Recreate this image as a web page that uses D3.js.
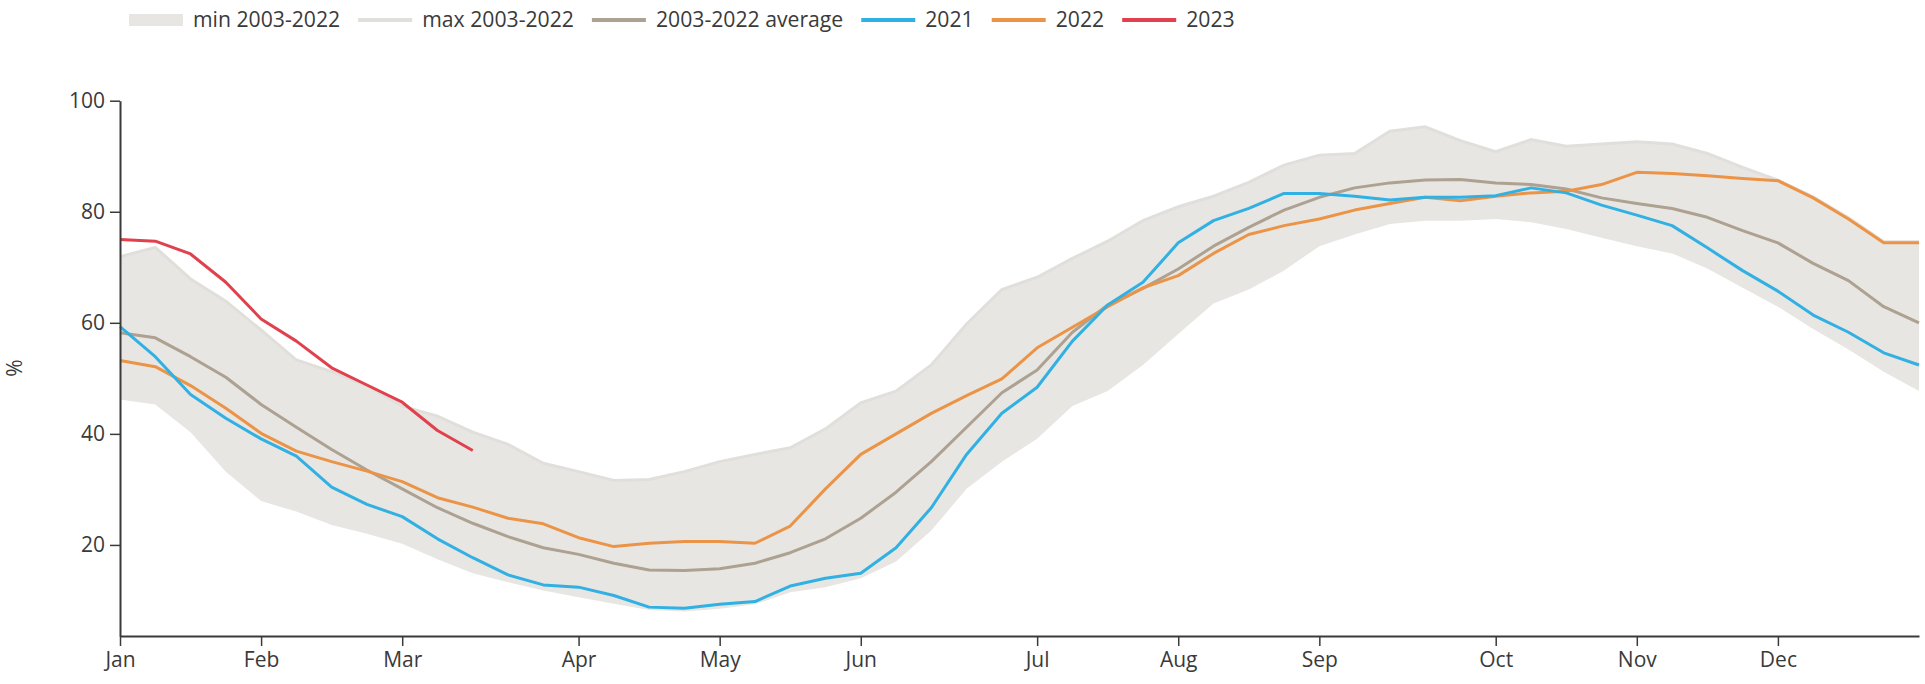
<!DOCTYPE html>
<html>
<head>
<meta charset="utf-8">
<script src="https://cdn.jsdelivr.net/npm/d3@7"></script>
<style>
  html, body { margin: 0; padding: 0; background: #fff; }
  svg { display: block; font-family: "Open Sans", "Noto Sans", sans-serif; }
</style>
</head>
<body>
<svg id="chart" width="1925" height="684"></svg>
<script>
// ---- data (weekly points, index 0..51) ----
const monthLabels = ["Jan","Feb","Mar","Apr","May","Jun","Jul","Aug","Sep","Oct","Nov","Dec"];
const monthTickIndex = [0,4,8,13,17,21,26,30,34,39,43,47];
const yTicks = [20,40,60,80,100];

const maxValues = [71.9,73.6,67.9,63.9,58.7,53.3,51.2,48.7,45.0,43.2,40.3,38.1,34.7,33.2,31.6,31.8,33.2,35.0,36.3,37.5,40.9,45.6,47.7,52.4,59.8,66.0,68.2,71.6,74.7,78.4,80.9,82.8,85.3,88.4,90.2,90.5,94.5,95.3,92.8,90.8,93.0,91.8,92.2,92.6,92.2,90.5,88.0,85.7,82.7,78.9,74.6,74.6];
const minValues = [46.2,45.3,40.3,33.2,27.9,26.0,23.6,22.0,20.2,17.4,14.9,13.3,11.8,10.6,9.4,8.3,8.0,8.5,9.3,11.5,12.4,14.0,17.0,22.6,30.1,35.0,39.1,45.0,47.7,52.4,58.0,63.5,66.0,69.4,73.8,75.9,77.8,78.4,78.4,78.7,78.1,76.9,75.3,73.8,72.5,69.8,66.3,62.9,58.9,55.2,51.2,47.7];
const avgValues = [58.2,57.3,53.9,50.2,45.3,41.2,37.2,33.5,30.1,26.7,23.9,21.5,19.5,18.3,16.7,15.5,15.4,15.7,16.7,18.6,21.1,24.8,29.5,35.0,41.2,47.4,51.5,58.3,63.2,66.2,69.7,73.8,77.2,80.3,82.6,84.3,85.2,85.7,85.8,85.2,84.9,84.1,82.5,81.5,80.6,79.0,76.6,74.4,70.7,67.6,62.9,60.0];
const values2021 = [59.3,53.9,47.1,42.8,39.1,36.0,30.4,27.3,25.1,21.1,17.7,14.6,12.8,12.4,10.9,8.8,8.6,9.3,9.8,12.6,14.0,14.9,19.5,26.7,36.3,43.7,48.4,56.7,63.2,67.3,74.4,78.4,80.6,83.3,83.3,82.8,82.1,82.6,82.6,82.9,84.3,83.4,81.2,79.4,77.5,73.5,69.4,65.7,61.4,58.3,54.6,52.4];
const values2022 = [53.2,52.1,48.7,44.6,40.1,36.9,35.0,33.3,31.4,28.5,26.8,24.8,23.8,21.3,19.7,20.3,20.6,20.6,20.3,23.4,30.1,36.3,40.0,43.7,46.9,49.9,55.5,59.2,62.9,66.3,68.5,72.5,75.9,77.5,78.7,80.3,81.5,82.6,82.0,82.8,83.4,83.7,84.9,87.1,86.9,86.5,86.0,85.6,82.5,78.7,74.4,74.4];
const values2023 = [75.0,74.7,72.4,67.3,60.7,56.7,51.9,48.8,45.7,40.6,37.0];

const legendLabels = ["min 2003-2022","max 2003-2022","2003-2022 average","2021","2022","2023"];

// ---- styling ----
const C = {
  band: "#e8e6e2",
  maxLine: "#e1dfdb",
  avg: "#ada191",
  y2021: "#31b0e3",
  y2022: "#eb9447",
  y2023: "#e0414d",
  axis: "#3a3a3a",
  text: "#3a3a3a"
};
const FS = 21;
const LFS = 21.2;

const svg = d3.select("#chart");
const x = d3.scaleLinear().domain([0, 51]).range([120, 1919]);
const y = d3.scaleLinear().domain([3.6, 100]).range([636, 100.7]);

const idx = d3.range(52);

// band
svg.append("path")
  .datum(idx)
  .attr("fill", C.band)
  .attr("d", d3.area().x(i => x(i)).y0(i => y(minValues[i])).y1(i => y(maxValues[i])));

// max edge line
svg.append("path")
  .datum(idx)
  .attr("fill", "none").attr("stroke", C.maxLine).attr("stroke-width", 3)
  .attr("d", d3.line().x(i => x(i)).y(i => y(maxValues[i])));

const line = arr => d3.line().x((d, i) => x(i)).y(d => y(d))(arr);

const series = [
  [avgValues, C.avg],
  [values2022, C.y2022],
  [values2021, C.y2021],
  [values2023, C.y2023]
];
series.forEach(([arr, col]) => {
  svg.append("path")
    .attr("fill", "none").attr("stroke", col).attr("stroke-width", 3)
    .attr("stroke-linejoin", "round")
    .attr("d", line(arr));
});

// axes
const xAxis = d3.axisBottom(x)
  .tickValues(monthTickIndex)
  .tickFormat((d, i) => monthLabels[i])
  .tickSize(10).tickPadding(6).tickSizeOuter(0);
const gx = svg.append("g").attr("transform", "translate(0,636)").call(xAxis);

const yAxis = d3.axisLeft(y).tickValues(yTicks).tickSize(10).tickPadding(5).tickSizeOuter(0);
const gy = svg.append("g").attr("transform", "translate(120,0)").call(yAxis);

[gx, gy].forEach(g => {
  g.select(".domain").attr("stroke", C.axis).attr("stroke-width", 2);
  g.selectAll(".tick line").attr("stroke", C.axis).attr("stroke-width", 1.5);
  g.selectAll(".tick text").attr("fill", C.text).style("font-size", FS + "px")
    .style("font-family", '"Open Sans", sans-serif');
});

// y axis title
svg.append("text")
  .attr("transform", "translate(22,368) rotate(-90)")
  .attr("text-anchor", "middle")
  .attr("fill", C.text)
  .style("font-size", FS + "px")
  .text("%");

// legend
const legend = svg.append("g");
let lx = 129;
const ly = 20;
const legendColors = [C.band, C.maxLine, C.avg, C.y2021, C.y2022, C.y2023];
legendLabels.forEach((lab, k) => {
  if (k === 0) {
    legend.append("rect").attr("x", lx).attr("y", ly - 6).attr("width", 54).attr("height", 12).attr("fill", legendColors[k]);
  } else {
    legend.append("line").attr("x1", lx).attr("x2", lx + 54).attr("y1", ly).attr("y2", ly)
      .attr("stroke", legendColors[k]).attr("stroke-width", 4);
  }
  const t = legend.append("text").attr("x", lx + 64).attr("y", ly).attr("dy", "0.35em")
    .attr("fill", C.text).style("font-size", LFS + "px").text(lab);
  const w = t.node().getComputedTextLength();
  lx = lx + 64 + w + 18;
});
</script>
</body>
</html>
